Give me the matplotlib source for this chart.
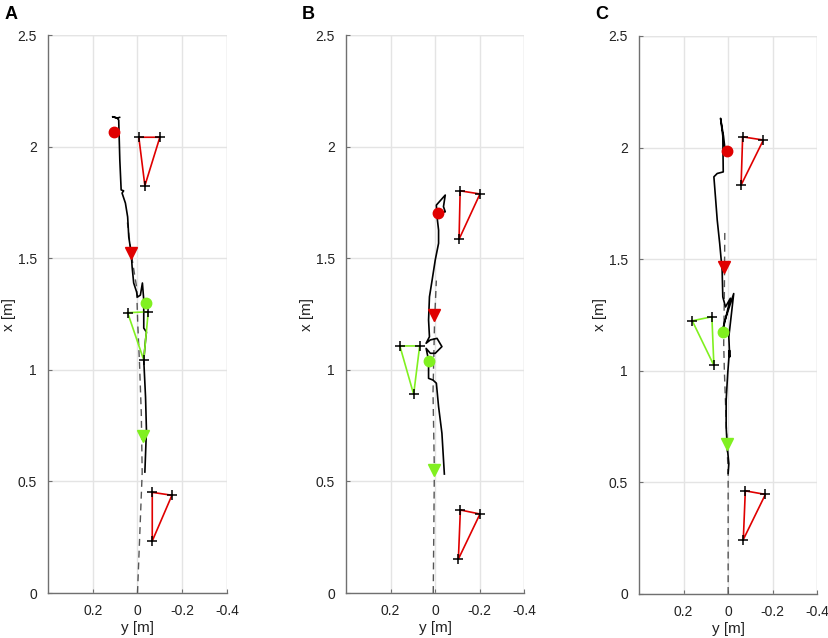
import matplotlib
matplotlib.use("Agg")
import numpy as np
import matplotlib.pyplot as plt

plt.rcParams['font.family'] = ['Liberation Sans', 'DejaVu Sans']

RED = '#e00000'
GREEN = '#80f020'

# ---- panel A ----
a_path_lat = [-0.033, -0.040, -0.036, -0.028, -0.036, -0.040, -0.028, -0.028, -0.022, -0.013,
              0.000, 0.004, 0.017, 0.024, 0.028, 0.039, 0.044, 0.054, 0.069, 0.062, 0.073,
              0.079, 0.084, 0.091, 0.111, 0.091, 0.080]
a_path_fwd = [0.542, 0.730, 0.878, 1.044, 1.134, 1.169, 1.187, 1.313, 1.389, 1.335,
              1.326, 1.349, 1.389, 1.461, 1.523, 1.595, 1.685, 1.747, 1.792, 1.802, 1.806,
              1.940, 2.119, 2.128, 2.134, 2.128, 2.131]
a_ref_lat = [0.0, -0.021, -0.017, -0.009, -0.001, 0.004, 0.028, 0.045]
a_ref_fwd = [0.0, 0.540, 0.806, 1.030, 1.210, 1.371, 1.52, 1.660]
a_goal1 = (0.103, 2.067)
a_goal2 = (-0.039, 1.300)
a_start1 = (0.028, 1.522)
a_start2 = (-0.024, 0.703)
a_tri_top = ([-0.006, -0.100, -0.033], [2.042, 2.042, 1.825])
a_tri_green = ([0.044, -0.048, -0.028], [1.256, 1.260, 1.044])
a_tri_bottom = ([-0.066, -0.154, -0.066], [0.451, 0.438, 0.233])

# ---- panel B ----
b_path_lat = [-0.042, -0.031, -0.016, -0.006, 0.009, 0.029, 0.029, 0.040, 0.021, -0.001,
              -0.031, -0.009, 0.021, 0.040, 0.025, 0.029, 0.025, 0.013, -0.001, -0.016,
              -0.016, -0.009, -0.006, -0.046, -0.038, -0.046, -0.019]
b_path_fwd = [0.533, 0.716, 0.835, 0.940, 0.954, 0.962, 1.044, 1.096, 1.074, 1.074,
              1.104, 1.141, 1.134, 1.119, 1.148, 1.223, 1.327, 1.402, 1.492, 1.567,
              1.626, 1.686, 1.738, 1.783, 1.731, 1.708, 1.702]
b_ref_lat = [0.008, 0.003, 0.009, 0.002, -0.006]
b_ref_fwd = [0.0, 0.550, 0.900, 1.220, 1.400]
b_goal1 = (-0.013, 1.703)
b_goal2 = (0.027, 1.040)
b_start1 = (0.003, 1.246)
b_start2 = (0.003, 0.551)
b_tri_top = ([-0.113, -0.202, -0.108], [1.802, 1.788, 1.585])
b_tri_green = ([0.158, 0.069, 0.096], [1.107, 1.107, 0.890])
b_tri_bottom = ([-0.114, -0.202, -0.105], [0.372, 0.354, 0.152])

# ---- panel C ----
c_path_lat = [0.000, -0.003, 0.004, 0.009, 0.009, 0.002, -0.006, -0.007, -0.003, -0.025,
              0.017, 0.024, 0.008, -0.010, 0.012, 0.024, 0.027, 0.038, 0.049, 0.057,
              0.064, 0.049, 0.022, 0.024, 0.034, 0.021, 0.012]
c_path_fwd = [0.540, 0.584, 0.659, 0.749, 0.868, 0.988, 1.092, 1.062, 1.152, 1.346,
              1.218, 1.182, 1.249, 1.325, 1.286, 1.331, 1.451, 1.571, 1.675, 1.779,
              1.869, 1.884, 1.891, 2.052, 2.131, 2.052, 1.974]
c_ref_lat = [0.0, 0.0, 0.008, 0.017, 0.020, 0.017, 0.015]
c_ref_fwd = [0.0, 0.540, 0.750, 1.000, 1.120, 1.350, 1.630]
c_goal1 = (0.004, 1.986)
c_goal2 = (0.022, 1.174)
c_start1 = (0.018, 1.466)
c_start2 = (0.004, 0.671)
c_tri_top = ([-0.065, -0.158, -0.058], [2.048, 2.034, 1.832])
c_tri_green = ([0.161, 0.073, 0.064], [1.224, 1.242, 1.024])
c_tri_bottom = ([-0.077, -0.167, -0.068], [0.462, 0.446, 0.244])

x_ticks = [0.2, 0, -0.2, -0.4]
x_ticklabels = ['0.2', '0', '-0.2', '-0.4']
y_ticks = [0, 0.5, 1, 1.5, 2, 2.5]
y_ticklabels = ['0', '0.5', '1', '1.5', '2', '2.5']

panels = [
    ('A', [0.0579, 0.0705, 0.2159, 0.8746], a_path_lat, a_path_fwd, a_ref_lat, a_ref_fwd,
     a_goal1, a_goal2, a_start1, a_start2, a_tri_top, a_tri_green, a_tri_bottom),
    ('B', [0.4174, 0.0705, 0.2147, 0.8746], b_path_lat, b_path_fwd, b_ref_lat, b_ref_fwd,
     b_goal1, b_goal2, b_start1, b_start2, b_tri_top, b_tri_green, b_tri_bottom),
    ('C', [0.7708, 0.0690, 0.2151, 0.8746], c_path_lat, c_path_fwd, c_ref_lat, c_ref_fwd,
     c_goal1, c_goal2, c_start1, c_start2, c_tri_top, c_tri_green, c_tri_bottom),
]


def draw_tri(ax, tri, color):
    xs = list(tri[0]) + [tri[0][0]]
    ys = list(tri[1]) + [tri[1][0]]
    ax.plot(xs, ys, color=color, lw=1.2, zorder=3)
    ax.plot(tri[0], tri[1], '+', color='black', ms=7, mew=1.1, zorder=4)


fig = plt.figure(figsize=(8.29, 6.38), dpi=100)

for (label, rect, p_lat, p_fwd, r_lat, r_fwd, g1, g2, s1, s2,
     t_top, t_green, t_bot) in panels:
    ax = fig.add_axes(rect)
    ax.plot(r_lat, r_fwd, color='#555555', lw=1.0, ls=(0, (5, 3.5)), zorder=2)
    ax.plot(p_lat, p_fwd, color='black', lw=1.2, zorder=3)
    draw_tri(ax, t_top, RED)
    draw_tri(ax, t_bot, RED)
    draw_tri(ax, t_green, GREEN)
    ax.plot(*g1, 'o', color=RED, ms=7.5, zorder=5)
    ax.plot(*g2, 'o', color=GREEN, ms=7.5, zorder=5)
    ax.plot(*s1, 'v', color=RED, ms=8, zorder=5)
    ax.plot(*s2, 'v', color=GREEN, ms=8, zorder=5)

    ax.set_xlim(0.4, -0.4)
    ax.set_ylim(0, 2.5)
    ax.set_xticks(x_ticks)
    ax.set_xticklabels(x_ticklabels)
    ax.set_yticks(y_ticks)
    ax.set_yticklabels(y_ticklabels)
    ax.grid(True, color='#e4e4e4', lw=1.0)
    ax.set_axisbelow(True)
    # top/right borders show only as grid lines
    ax.axvline(-0.4, color='#e4e4e4', lw=1.0, zorder=0)
    ax.axhline(2.5, color='#e4e4e4', lw=1.0, zorder=0)
    for side in ['top', 'right']:
        ax.spines[side].set_visible(False)
    for side in ['left', 'bottom']:
        ax.spines[side].set_color('#707070')
        ax.spines[side].set_linewidth(1.0)
    ax.tick_params(direction='in', length=3, color='#707070', labelsize=10,
                   labelcolor='#222222', pad=8)
    ax.set_xlabel('y [m]', fontsize=11, color='#222222', labelpad=2)
    ax.set_ylabel('x [m]', fontsize=11, color='#222222', labelpad=1)
    ax.text(rect[0] - 0.053, 0.99, label, transform=fig.transFigure,
            fontsize=13, fontweight='bold', va='top', ha='left')

fig.savefig('out.png', dpi=100)
